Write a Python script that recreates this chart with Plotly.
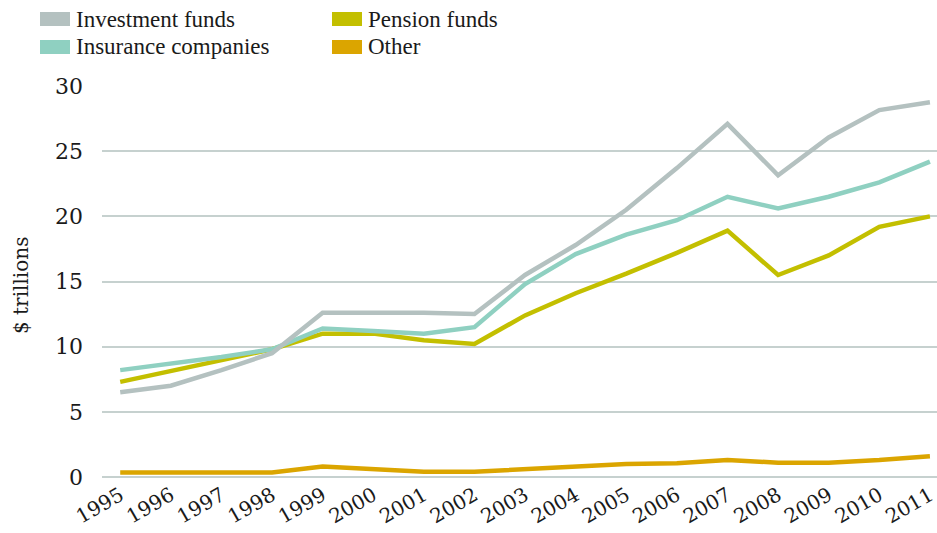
import plotly.graph_objects as go

years = list(range(1995, 2012))
year_labels = [str(y) for y in years]

investment_funds = [6.5, 7.0, 8.2, 9.5, 12.6, 12.6, 12.6, 12.5, 15.5, 17.8, 20.5, 23.7, 27.1, 23.15, 26.05, 28.15, 28.75]
insurance_companies = [8.2, 8.7, 9.2, 9.8, 11.4, 11.2, 11.0, 11.5, 14.8, 17.1, 18.6, 19.7, 21.5, 20.6, 21.5, 22.6, 24.2]
pension_funds = [7.3, 8.15, 9.0, 9.8, 11.0, 11.0, 10.5, 10.2, 12.4, 14.1, 15.6, 17.2, 18.9, 15.5, 17.0, 19.2, 20.0]
other = [0.35, 0.35, 0.35, 0.35, 0.8, 0.6, 0.4, 0.4, 0.6, 0.8, 1.0, 1.05, 1.3, 1.1, 1.1, 1.3, 1.6]

series = [
    ("Investment funds", investment_funds, "#b4c1c0"),
    ("Insurance companies", insurance_companies, "#8fd0c1"),
    ("Pension funds", pension_funds, "#c3bf00"),
    ("Other", other, "#dba500"),
]

fig = go.Figure()
# draw order: other, pension, insurance, investment (investment on top)
for name, vals, color in [series[3], series[2], series[1], series[0]]:
    fig.add_trace(go.Scatter(
        x=years, y=vals, name=name, mode="lines",
        line=dict(color=color, width=4.5), showlegend=False,
    ))

W, H = 937, 533
L, R, T, B = 102, 0, 86, 56
pw = W - L - R
ph = H - T - B

def px_x(x):
    return (x - L) / pw

def px_y(y):
    return (H - B - y) / ph

shapes = []
annotations = []
legend_pos = [
    (series[0], 40, 19),
    (series[1], 40, 47),
    (series[2], 332, 19),
    (series[3], 332, 47),
]
for (name, vals, color), sx, sy in legend_pos:
    shapes.append(dict(
        type="rect", xref="paper", yref="paper",
        x0=px_x(sx), x1=px_x(sx + 30), y0=px_y(sy + 7), y1=px_y(sy - 7),
        fillcolor=color, line=dict(width=0), layer="above",
    ))
    annotations.append(dict(
        text=name, xref="paper", yref="paper",
        x=px_x(sx + 34), y=px_y(sy), xanchor="left", yanchor="middle",
        showarrow=False, font=dict(family="Liberation Serif", size=23, color="#1a1a1a"),
    ))

annotations.append(dict(
    text="$ trillions", xref="paper", yref="paper",
    x=px_x(21), y=px_y(286), xanchor="center", yanchor="middle",
    textangle=-90, showarrow=False,
    font=dict(family="DejaVu Serif", size=20, color="#1a1a1a"),
))

fig.update_layout(
    width=W, height=H,
    margin=dict(l=L, r=R, t=T, b=B),
    plot_bgcolor="white", paper_bgcolor="white",
    shapes=shapes, annotations=annotations,
    showlegend=False,
    xaxis=dict(
        range=[1994.64, 2011.14],
        tickmode="array", tickvals=years, ticktext=year_labels,
        tickangle=-30, showgrid=False, zeroline=False, showline=False,
        ticks="", ticklabelstandoff=2, ticklabeloverflow="allow",
        tickfont=dict(family="DejaVu Serif", size=20, color="#1a1a1a"),
    ),
    yaxis=dict(
        range=[0, 30], tickvals=[0, 5, 10, 15, 20, 25, 30],
        showgrid=True, gridcolor="#c6d1cf", gridwidth=2,
        zeroline=True, zerolinecolor="#c6d1cf", zerolinewidth=2,
        showline=False, ticks="", ticklabelstandoff=18,
        tickfont=dict(family="DejaVu Serif", size=22, color="#1a1a1a"),
    ),
)

fig.write_html(
    "out.html",
    config={"displayModeBar": False},
    post_script="document.body.style.margin='0';document.body.style.overflow='hidden';",
)
